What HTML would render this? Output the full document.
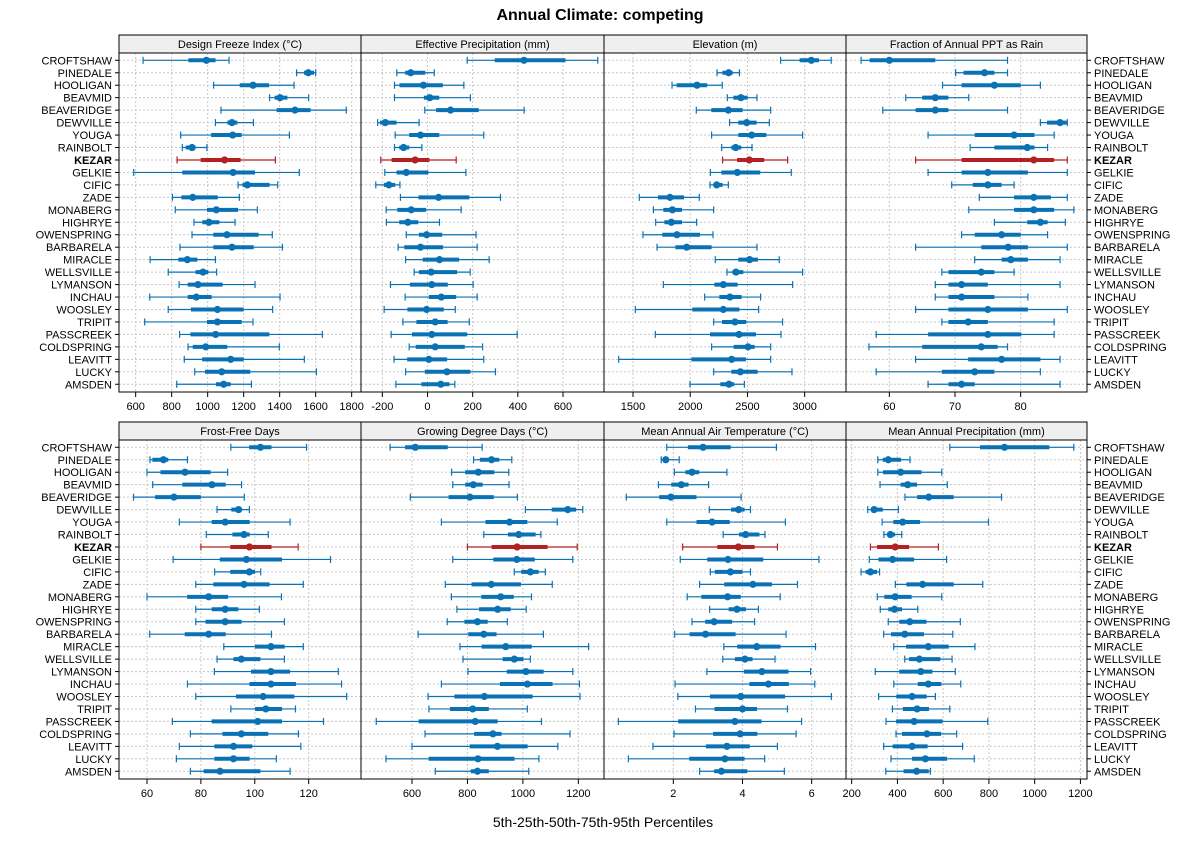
<!DOCTYPE html>
<html><head><meta charset="utf-8"><style>
body{margin:0;background:#fff;}
svg{display:block;font-family:"Liberation Sans",Arial,sans-serif;}
</style></head><body>
<svg id="chart" width="1200" height="850" viewBox="0 0 1200 850" xmlns="http://www.w3.org/2000/svg">
<text x="600" y="20" text-anchor="middle" font-size="16" font-weight="bold">Annual Climate: competing</text>
<text x="603" y="827" text-anchor="middle" font-size="14">5th-25th-50th-75th-95th Percentiles</text>
</svg>
<script>
const stations = ["CROFTSHAW","PINEDALE","HOOLIGAN","BEAVMID","BEAVERIDGE","DEWVILLE","YOUGA","RAINBOLT","KEZAR","GELKIE","CIFIC","ZADE","MONABERG","HIGHRYE","OWENSPRING","BARBARELA","MIRACLE","WELLSVILLE","LYMANSON","INCHAU","WOOSLEY","TRIPIT","PASSCREEK","COLDSPRING","LEAVITT","LUCKY","AMSDEN"];
const highlight = "KEZAR";
const panelTitles = ["Design Freeze Index (°C)","Effective Precipitation (mm)","Elevation (m)","Fraction of Annual PPT as Rain","Frost-Free Days","Growing Degree Days (°C)","Mean Annual Air Temperature (°C)","Mean Annual Precipitation (mm)"];
const ticks1 = [600,800,1000,1200,1400,1600,1800];
const ticks2 = [-200,0,200,400,600];
const ticks3 = [1500,2000,2500,3000];
const ticks4 = [60,70,80];
const ticks5 = [60,80,100,120];
const ticks6 = [600,800,1000,1200];
const ticks7 = [2,4,6];
const ticks8 = [200,400,600,800,1000,1200];
const designFreeze = [[641,893,993,1044,1119],[1494,1535,1559,1591,1600],[1033,1178,1252,1341,1480],[1344,1372,1402,1443,1561],[1074,1383,1485,1572,1770],[1043,1109,1135,1165,1254],[850,1019,1139,1189,1454],[859,878,913,933,996],[830,961,1094,1183,1376],[589,859,1141,1263,1509],[1169,1193,1220,1344,1389],[804,854,917,1056,1176],[820,996,1048,1169,1276],[924,970,1007,1065,1152],[913,1031,1107,1283,1359],[846,1031,1135,1256,1415],[680,837,887,943,1043],[781,933,974,1004,1050],[841,889,946,1083,1263],[678,889,937,1022,1402],[781,907,1054,1200,1361],[650,996,1054,1189,1252],[844,904,1044,1343,1637],[891,917,989,1109,1398],[870,969,1128,1200,1537],[928,985,1078,1237,1604],[828,1046,1089,1128,1243]];
const effPrecip = [[176,298,427,611,754],[-136,-99,-74,-10,30],[-146,-124,-18,68,161],[-146,-16,10,52,190],[-12,38,102,227,428],[-221,-210,-187,-137,-37],[-143,-81,-31,52,249],[-146,-125,-106,-81,-25],[-207,-159,-55,9,127],[-189,-137,-94,4,170],[-229,-193,-171,-143,-122],[-120,-40,49,185,323],[-183,-134,-72,-6,149],[-182,-125,-87,-41,53],[-94,-38,-4,65,215],[-130,-103,-31,69,220],[-97,-21,53,140,273],[-59,-38,16,131,189],[-164,-78,19,90,202],[-99,6,61,127,220],[-192,-89,-4,72,123],[-109,-49,34,89,185],[-161,-69,19,176,397],[-81,-52,34,165,244],[-148,-90,6,87,249],[-97,-12,86,190,301],[-140,-27,59,97,121]];
const elevation = [[2790,2956,3058,3125,3232],[2234,2281,2336,2371,2430],[1841,1881,2059,2149,2280],[2324,2377,2443,2502,2583],[2053,2184,2333,2458,2703],[2344,2420,2493,2580,2691],[2187,2420,2537,2665,2982],[2275,2359,2397,2446,2540],[2283,2409,2516,2647,2851],[2176,2272,2411,2612,2883],[2173,2208,2231,2283,2333],[1555,1718,1823,1946,2079],[1678,1765,1844,1928,2205],[1698,1774,1835,1928,2056],[1587,1756,1884,2085,2199],[1710,1870,1969,2187,2583],[2219,2420,2519,2592,2778],[2321,2368,2400,2464,2982],[1765,2211,2289,2414,2895],[2126,2254,2347,2449,2615],[1520,2018,2289,2429,2598],[2205,2278,2391,2490,2807],[1695,2173,2426,2575,2793],[2187,2379,2505,2563,2703],[1375,2010,2362,2487,2703],[2205,2359,2438,2589,2889],[1998,2263,2339,2385,2473]];
const rainFraction = [[55.7,57.0,60,67.0,78.0],[70.1,71.3,74.5,76.0,78.0],[68.1,71.0,76.0,80.0,83.0],[62.5,65.0,67.0,69.0,72.1],[59.0,64.0,67.0,69.0,78.0],[83.0,84.0,86.0,87.0,87.1],[65.9,73.0,79.0,82.1,85.1],[72.3,76.0,81.0,82.1,84.1],[64.0,71.0,82.0,85.1,87.1],[65.9,71.0,75.0,81.1,87.1],[69.5,72.7,75.0,77.1,79.0],[73.7,79.0,82.0,84.6,87.1],[72.1,79.0,82.0,85.1,88.1],[76.0,81.0,83.0,84.1,86.8],[71.0,73.0,77.1,80.0,84.1],[64.0,74.0,78.1,81.1,87.1],[73.0,77.1,78.5,81.1,86.0],[68.0,69.0,74.0,76.0,79.0],[67.0,69.0,71.0,75.0,86.0],[67.0,69.0,71.0,76.0,81.1],[64.0,69.0,75.0,81.1,87.1],[68.0,69.0,72.0,75.0,85.1],[58.0,65.9,75.0,80.1,85.1],[56.9,65.0,74.0,76.5,78.0],[64.0,72.0,77.1,83.0,86.0],[58.0,68.0,73.0,76.0,83.0],[65.9,69.0,71.0,73.0,86.0]];
const frostFree = [[91.1,97.9,102.1,106.2,119.2],[61.1,62.0,66.1,67.9,75.0],[60,65.0,74.1,83.6,89.9],[62.1,73.1,84.1,89.2,95.1],[55.0,63.0,70.0,80.0,96.1],[86.0,91.3,94.0,95.1,98.0],[72.0,84.0,89.0,98.1,113.1],[82.0,91.7,96.0,98.1,105.0],[80.0,90.9,98.0,106.2,116.1],[69.7,87.0,96.9,110.1,128.1],[85.1,90.9,98.0,100.1,102.2],[78.1,84.6,96.0,105.5,118.0],[60,74.9,82.9,90.1,109.9],[78.1,84.0,89.0,93.9,101.7],[78.1,81.7,89.0,95.1,111.0],[61.0,74.0,82.9,89.2,106.2],[88.5,100.1,106.0,111.1,118.0],[86.0,92.1,95.0,102.1,111.0],[85.0,98.6,106.0,113.1,131.0],[75.0,98.0,106.0,115.3,132.2],[78.1,93.0,103.1,114.7,134.1],[91.1,100.1,104.1,110.1,115.1],[69.4,84.0,101.1,110.1,125.5],[76.1,88.0,95.0,105.0,116.2],[72.0,85.0,92.1,99.1,117.1],[70.9,85.0,92.1,98.1,108.0],[76.1,81.0,87.1,102.1,113.1]];
const growingDD = [[521,575,612,729,853],[822,845,887,915,960],[743,792,839,897,949],[747,792,821,855,950],[594,732,809,895,980],[1009,1104,1162,1192,1216],[706,865,952,1016,1124],[859,946,985,1046,1065],[800,887,979,1089,1196],[747,893,978,1043,1180],[969,994,1027,1057,1081],[720,815,886,993,1106],[742,850,920,967,1031],[762,842,909,956,1012],[727,789,836,873,944],[622,803,859,905,1074],[773,851,938,1032,1237],[784,927,969,1002,1027],[802,942,1011,1075,1180],[706,917,1016,1107,1204],[658,753,861,1035,1206],[661,737,819,877,1016],[471,624,828,909,1067],[647,824,892,923,1170],[600,808,908,1017,1126],[506,660,838,970,1058],[684,812,836,877,1021]];
const airTemp = [[1.81,2.42,2.86,3.66,4.98],[1.65,1.71,1.78,1.87,2.17],[2.03,2.35,2.54,2.75,3.55],[1.57,1.94,2.23,2.44,3.02],[0.64,1.59,1.93,2.67,3.96],[3.04,3.67,3.89,4.06,4.23],[1.81,2.67,3.12,3.63,5.24],[3.44,3.90,4.09,4.49,4.65],[2.27,3.27,3.88,4.35,5.01],[2.20,2.98,3.58,4.60,6.21],[3.07,3.20,3.65,4.00,4.23],[2.76,3.47,4.30,4.85,5.59],[2.40,2.81,3.57,3.95,5.09],[3.05,3.60,3.84,4.10,4.46],[2.54,2.92,3.18,3.70,4.35],[2.04,2.47,2.93,3.80,5.26],[3.46,3.85,4.41,5.10,6.11],[3.43,3.78,4.07,4.29,4.94],[2.97,4.04,4.56,5.33,5.97],[2.05,4.20,4.75,5.34,6.09],[2.13,3.06,3.95,5.23,6.57],[2.64,3.19,4.00,4.42,5.30],[0.41,2.14,3.78,4.55,5.71],[2.02,3.15,3.93,4.43,5.55],[1.41,2.94,3.55,4.21,5.01],[0.70,2.46,3.49,4.06,4.64],[2.76,3.18,3.39,4.14,5.21]];
const annualPrecip = [[629,761,868,1064,1171],[314,336,360,416,455],[314,337,414,505,594],[324,414,445,486,618],[433,486,537,646,855],[270,285,298,336,404],[333,382,423,499,798],[341,357,369,390,419],[282,311,390,451,579],[277,317,379,473,615],[241,261,282,311,322],[391,439,510,646,773],[312,343,390,462,594],[325,360,387,420,489],[360,408,454,527,675],[340,372,432,516,642],[384,438,535,624,739],[432,451,496,588,639],[303,408,502,553,653],[384,489,535,592,677],[318,395,464,528,566],[378,424,486,538,629],[350,394,473,598,795],[394,420,529,591,659],[340,379,464,532,685],[372,464,522,617,736],[349,427,484,537,544]];

const NS="http://www.w3.org/2000/svg";
const svg=document.getElementById('chart');
function mk(tag,attrs,parent){const e=document.createElementNS(NS,tag);for(const k in attrs)e.setAttribute(k,attrs[k]);(parent||svg).appendChild(e);return e;}

// panel geometry: [left,right], top/bottom rows
const colX=[[119,361],[361,604],[604,846],[846,1087]];
const rowsGeo=[{strip:35,top:53,bot:392,r0:60.3,step:12.46},{strip:422,top:440,bot:779,r0:447.3,step:12.46}];
// axis calibration [v0,px0,v1,px1]
const calib=[[600,135.67,1600,315.67],[-200,382.33,600,563],[1500,633,3000,804.67],[60,889.33,80,1020.67],[60,147,120,308.67],[600,412,1200,578.33],[2,673.33,6,811.67],[200,851.67,1000,1034.67]];
const panelData=[designFreeze,effPrecip,elevation,rainFraction,frostFree,growingDD,airTemp,annualPrecip];
const panelTicks=[ticks1,ticks2,ticks3,ticks4,ticks5,ticks6,ticks7,ticks8];
const panelNames=['design-freeze-index','effective-precipitation','elevation','fraction-rain','frost-free-days','growing-degree-days','mean-air-temperature','mean-annual-precipitation'];

for(let p=0;p<8;p++){
  const col=p%4,row=Math.floor(p/4);
  const [L,R]=colX[col];const g=rowsGeo[row];
  const c=calib[p];
  const sx=v=>c[1]+(v-c[0])*(c[3]-c[1])/(c[2]-c[0]);
  const ry=i=>g.r0+i*g.step;
  const grp=mk('g',{});
  
  
  const strip=mk('rect',{x:L,y:g.strip,width:R-L,height:g.top-g.strip,fill:'#efefef',stroke:'#000','stroke-width':1},grp);
  
  
  const st=mk('text',{x:(L+R)/2,y:g.strip+13,'text-anchor':'middle','font-size':11},grp);
  st.textContent=panelTitles[p];
  
  
  // grid
  panelTicks[p].forEach(t=>{const x=sx(t);if(x>L+1&&x<R-1)mk('line',{x1:x,x2:x,y1:g.top,y2:g.bot,stroke:'#c8c8c8','stroke-dasharray':'2,2'},grp);});
  stations.forEach((s,i)=>mk('line',{x1:L,x2:R,y1:ry(i),y2:ry(i),stroke:'#c8c8c8','stroke-dasharray':'2,2'},grp));
  // marks
  panelData[p].forEach((d,i)=>{
    const y=ry(i);const color=stations[i]===highlight?'#b22222':'#0a72b4';
    const m=mk('g',{},grp);
    
    
    mk('line',{x1:sx(d[0]),x2:sx(d[4]),y1:y,y2:y,stroke:color,'stroke-width':1.2},m);
    mk('line',{x1:sx(d[0]),x2:sx(d[0]),y1:y-3.5,y2:y+3.5,stroke:color,'stroke-width':1.2},m);
    mk('line',{x1:sx(d[4]),x2:sx(d[4]),y1:y-3.5,y2:y+3.5,stroke:color,'stroke-width':1.2},m);
    mk('line',{x1:sx(d[1]),x2:sx(d[3]),y1:y,y2:y,stroke:color,'stroke-width':4},m);
    mk('circle',{cx:sx(d[2]),cy:y,r:3.6,fill:color},m);
  });
  const frame=mk('rect',{x:L,y:g.top,width:R-L,height:g.bot-g.top,fill:'none',stroke:'#000','stroke-width':1},grp);
  
  
  // x ticks
  panelTicks[p].forEach(t=>{const x=sx(t);if(x<L-1||x>R+1)return;
    mk('line',{x1:x,x2:x,y1:g.bot,y2:g.bot+5,stroke:'#000'},grp);
    const tl=mk('text',{x:x,y:g.bot+18,'text-anchor':'middle','font-size':11},grp);
    tl.textContent=t;
    
    
  });
}
// row labels
rowsGeo.forEach(g=>{
  stations.forEach((s,i)=>{
    const y=g.r0+i*g.step;
    const bold=s===highlight?'bold':'normal';
    mk('line',{x1:115,x2:119,y1:y,y2:y,stroke:'#000'});
    mk('line',{x1:1087,x2:1091,y1:y,y2:y,stroke:'#000'});
    const a=mk('text',{x:112,y:y+4,'text-anchor':'end','font-size':11,'font-weight':bold});
    a.textContent=s;
    
    
    const b=mk('text',{x:1094,y:y+4,'text-anchor':'start','font-size':11,'font-weight':bold});
    b.textContent=s;
    
    
  });
});
</script>
</body></html>
